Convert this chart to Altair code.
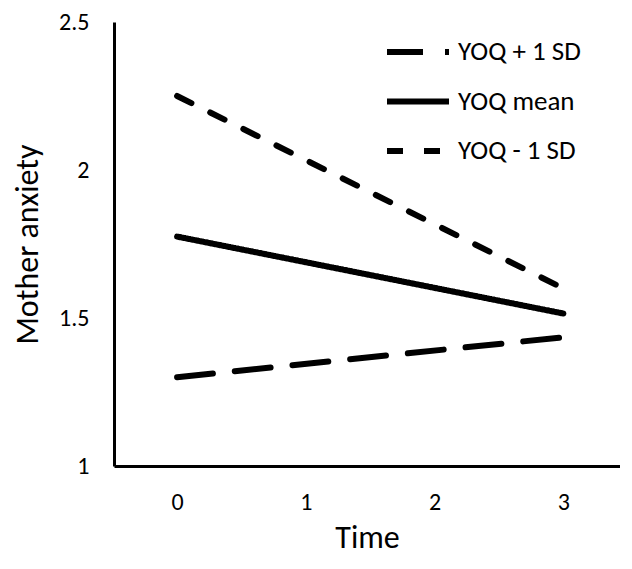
import altair as alt
import pandas as pd

time_points = [0, 3]
series_names = ["YOQ + 1 SD", "YOQ mean", "YOQ - 1 SD"]
yoq_plus = [1.30, 1.435]
yoq_mean = [1.775, 1.515]
yoq_minus = [2.25, 1.60]
x_ticks = [0, 1, 2, 3]
y_ticks = [1, 1.5, 2, 2.5]

rows = []
for name, vals in zip(series_names, [yoq_plus, yoq_mean, yoq_minus]):
    for t, v in zip(time_points, vals):
        rows.append({"Time": t, "Anxiety": v, "Series": name})
df = pd.DataFrame(rows)

FONT = "Calibri, Carlito, Lato, sans-serif"

chart = alt.Chart(df).mark_line(strokeWidth=6, strokeCap="round", color="black").encode(
    x=alt.X("Time:Q", scale=alt.Scale(domain=[-0.49, 3.44], nice=False, zero=False),
            axis=alt.Axis(values=x_ticks, title="Time", grid=False, ticks=False,
                          labelFontSize=24, titleFontSize=32, labelPadding=24,
                          titlePadding=8, domainColor="black", domainWidth=3,
                          labelColor="black", titleColor="black", titleFontWeight="normal",
                          labelFont=FONT, titleFont=FONT)),
    y=alt.Y("Anxiety:Q", scale=alt.Scale(domain=[1, 2.5], nice=False, zero=False),
            axis=alt.Axis(values=y_ticks, format="~g", title="Mother anxiety", grid=False, ticks=False,
                          labelFontSize=24, titleFontSize=32, labelPadding=25,
                          titlePadding=14, domainColor="black", domainWidth=3,
                          labelColor="black", titleColor="black", titleFontWeight="normal",
                          labelFont=FONT, titleFont=FONT)),
    strokeDash=alt.StrokeDash("Series:N",
        scale=alt.Scale(domain=series_names, range=[[36, 22], [1, 0], [16, 21]]),
        legend=alt.Legend(title=None, orient="none", legendX=270, legendY=-4,
                          symbolType="stroke", symbolSize=3844, symbolStrokeWidth=6,
                          symbolStrokeColor="black", labelFontSize=27, labelFont=FONT,
                          labelColor="black", rowPadding=2.5, labelOffset=6, padding=0)),
    detail="Series:N",
).properties(
    width=506, height=444,
    padding={"left": 3, "top": 2, "right": 0, "bottom": 6},
).configure_view(stroke=None)

chart.save("out.html", embed_options={"renderer": "svg", "actions": False})
